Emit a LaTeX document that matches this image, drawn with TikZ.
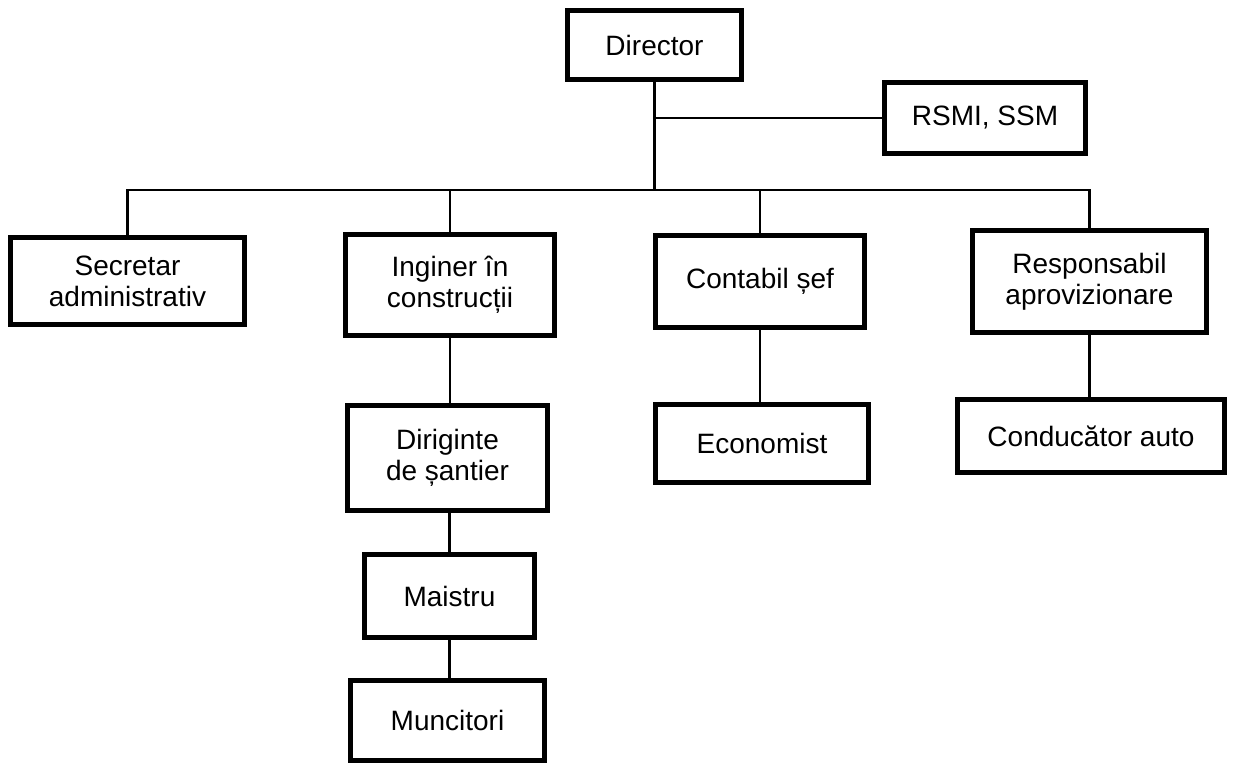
\documentclass[tikz,border=0pt]{standalone}
\usepackage{fontspec}
\setmainfont{Liberation Sans}
\begin{document}
\begin{tikzpicture}[x=0.5pt,y=-0.5pt,
  box/.style={draw=black, line width=2.4pt, fill=white, inner sep=0pt, align=center,
    font=\fontsize{14}{15.5}\selectfont},
  link/.style={draw=black, line width=1.3pt}]
\useasboundingbox (0,0) rectangle (1233,765);
% nodes
\node[box, minimum width=87pt,   minimum height=34.5pt] (dir)  at (654.5,45)   {Director};
\node[box, minimum width=100.5pt,minimum height=35.5pt] (rsmi) at (985,118)    {RSMI, SSM};
\node[box, minimum width=117pt,  minimum height=43.5pt] (sec)  at (127.5,281)  {Secretar\\administrativ};
\node[box, minimum width=104.5pt,minimum height=50.5pt] (ing)  at (450,285)    {Inginer în\\construcții};
\node[box, minimum width=104.5pt,minimum height=46pt]   (cont) at (760,281.5)  {Contabil șef};
\node[box, minimum width=117pt,  minimum height=51pt]   (resp) at (1089.5,281.5) {Responsabil\\aprovizionare};
\node[box, minimum width=100pt,  minimum height=52.5pt] (dirg) at (447.5,458)  {Diriginte\\de șantier};
\node[box, minimum width=106.5pt,minimum height=39pt]   (eco)  at (762,443.5)  {Economist};
\node[box, minimum width=133.5pt,minimum height=36.5pt] (cond) at (1091,436)   {Conducător auto};
\node[box, minimum width=85pt,   minimum height=41.5pt] (mai)  at (449.5,596)  {Maistru};
\node[box, minimum width=97pt,   minimum height=40pt]   (mun)  at (447.5,720.5) {Muncitori};
% bus
\coordinate (bus) at (0,190);
% connectors
\draw[link] (dir.south) -- (dir.south |- bus);
\draw[link] (dir.south |- rsmi.west) -- (rsmi.west);
\draw[link] (sec.north) -- (sec.north |- bus) -- (resp.north |- bus) -- (resp.north);
\draw[link] (ing.north) -- (ing.north |- bus);
\draw[link] (cont.north) -- (cont.north |- bus);
\draw[link] (ing.south) -- (ing.south |- dirg.north);
\draw[link] (cont.south) -- (cont.south |- eco.north);
\draw[link] (resp.south) -- (resp.south |- cond.north);
\draw[link] (mai.north |- dirg.south) -- (mai.north);
\draw[link] (mai.south) -- (mai.south |- mun.north);
\end{tikzpicture}
\end{document}
